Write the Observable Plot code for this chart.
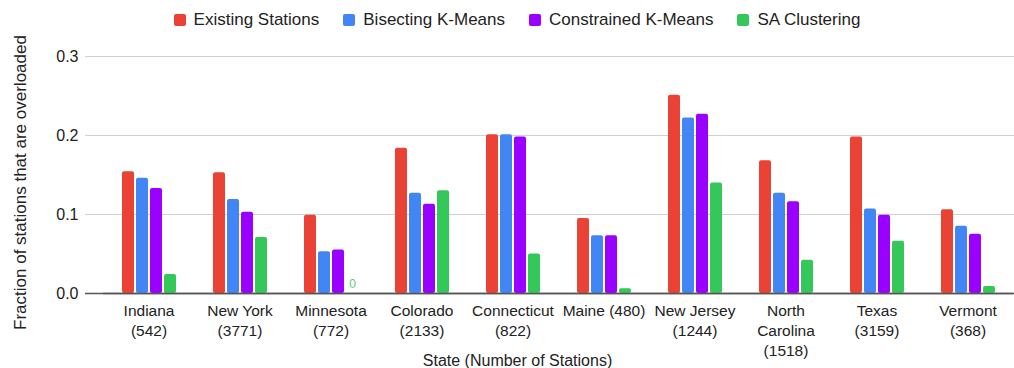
<!DOCTYPE html>
<html>
<head>
<meta charset="utf-8">
<script src="https://cdn.jsdelivr.net/npm/d3@7"></script>
<script src="https://cdn.jsdelivr.net/npm/@observablehq/plot@0.6"></script>
<style>
  html, body { margin: 0; padding: 0; background: #fff; overflow: hidden; }
  body { width: 1014px; height: 368px; font-family: "Liberation Sans", Arial, sans-serif; color: #222; }
  #legend { height: 40px; display: flex; align-items: center; justify-content: center; padding-left: 20px; box-sizing: border-box; font-size: 17px; }
  .item { display: flex; align-items: center; margin: 0 12px; }
  .sw { width: 12px; height: 12px; border-radius: 2px; margin-right: 8px; }
  #chart { position: relative; width: 1014px; height: 328px; }
  #chart svg { position: absolute; left: 0; top: 0; overflow: visible; }
</style>
</head>
<body>
<div id="legend"></div>
<div id="chart"></div>
<script>
const states = ["Indiana\n(542)", "New York\n(3771)", "Minnesota\n(772)", "Colorado\n(2133)", "Connecticut\n(822)", "Maine (480)", "New Jersey\n(1244)", "North\nCarolina\n(1518)", "Texas\n(3159)", "Vermont\n(368)"];
const seriesNames = ["Existing Stations", "Bisecting K-Means", "Constrained K-Means", "SA Clustering"];
const colors = ["#ea4335", "#4285f4", "#9900ff", "#34c759"];
const existing    = [0.154, 0.153, 0.099, 0.184, 0.201, 0.095, 0.251, 0.168, 0.198, 0.106];
const bisecting   = [0.146, 0.119, 0.053, 0.127, 0.201, 0.073, 0.222, 0.127, 0.107, 0.085];
const constrained = [0.133, 0.103, 0.055, 0.113, 0.198, 0.073, 0.227, 0.116, 0.099, 0.075];
const saClust     = [0.024, 0.071, 0.000, 0.130, 0.050, 0.006, 0.140, 0.042, 0.066, 0.009];
const yTicks = [0, 0.1, 0.2, 0.3];
const yLabel = "Fraction of stations that are overloaded";
const xLabel = "State (Number of Stations)";

const seriesValues = [existing, bisecting, constrained, saClust];
const data = [];
states.forEach((s, i) => seriesNames.forEach((n, j) => data.push({state: s, series: n, value: seriesValues[j][i]})));

// legend
const legend = document.getElementById("legend");
seriesNames.forEach((n, j) => {
  const it = document.createElement("div"); it.className = "item";
  const sw = document.createElement("div"); sw.className = "sw"; sw.style.background = colors[j];
  const tx = document.createElement("span"); tx.textContent = n;
  it.appendChild(sw); it.appendChild(tx); legend.appendChild(it);
});

const W = 1014, H = 328, ML = 85, MT = 16, MB = 75;
const font = "Liberation Sans, Arial, sans-serif";

const bg = Plot.plot({
  width: W, height: H, marginLeft: ML, marginRight: 0, marginTop: MT, marginBottom: MB,
  style: {fontFamily: font, color: "#222", background: "transparent", overflow: "visible"},
  y: {domain: [0, 0.3]},
  marks: [
    Plot.ruleY(yTicks.filter(d => d > 0), {stroke: "#d0d0d0", strokeWidth: 1}),
    Plot.ruleY([0], {stroke: "#555", strokeWidth: 1.5}),
    Plot.axisY({ticks: yTicks, tickFormat: d3.format(".1f"), tickSize: 0, tickPadding: 7, fontSize: 16, label: null}),
    Plot.text([yLabel], {text: d => d, frameAnchor: "left", textAnchor: "middle", rotate: -90, lineAnchor: "top", dx: -72, dy: 7.5, fontSize: 17, fill: "#222"}),
    Plot.text([xLabel], {text: d => d, frameAnchor: "bottom", textAnchor: "middle", lineAnchor: "top", dx: -32.5, dy: 61, fontSize: 16, fill: "#222"})
  ]
});

const fg = Plot.plot({
  width: W, height: H, marginLeft: ML, marginRight: 0, marginTop: MT, marginBottom: MB,
  style: {fontFamily: font, color: "#222", background: "transparent", overflow: "visible"},
  fx: {domain: states, range: [ML, 1030], paddingInner: 0, paddingOuter: 0.19, axis: null, label: null},
  x: {domain: seriesNames, paddingInner: 0.15, paddingOuter: 1.21, axis: null},
  y: {domain: [0, 0.3], axis: null},
  color: {domain: seriesNames, range: colors},
  marks: [
    Plot.barY(data, {fx: "state", x: "series", y: "value", fill: "series", rx: 2}),
    Plot.ruleY([0], {stroke: "#555", strokeWidth: 1.5}),
    Plot.text(data.filter(d => d.value === 0), {fx: "state", x: "series", y: "value", text: d => "0", dy: -9, fontSize: 12, fill: "#5ccb7a"}),
    Plot.text(states, {fx: d => d, text: d => d, frameAnchor: "bottom", textAnchor: "middle", lineAnchor: "top", dy: 8, lineHeight: 1.29, fontSize: 15.5, fill: "#222"})
  ]
});

const chart = document.getElementById("chart");
chart.appendChild(bg);
chart.appendChild(fg);
</script>
</body>
</html>
